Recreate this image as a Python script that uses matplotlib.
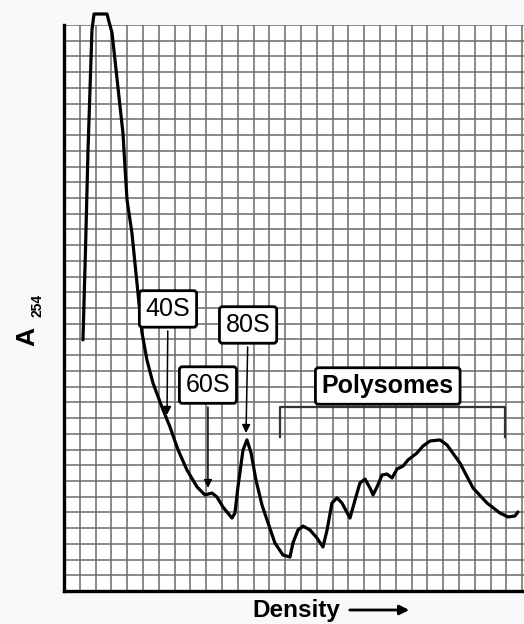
import numpy as np
import matplotlib
matplotlib.use('Agg')
import matplotlib.pyplot as plt

# trace (grid units)
dens = [1.20, 1.36, 1.52, 1.77, 1.90, 2.72, 2.85, 3.04, 3.73, 3.86, 3.99, 4.30, 4.68, 4.94,
        5.25, 5.63, 6.20, 6.71, 7.22, 7.78, 8.42, 8.92, 9.37, 9.68, 10.06, 10.63, 10.82,
        11.01, 11.33, 11.58, 11.84, 12.15, 12.53, 12.85, 13.35, 13.86, 14.30, 14.49, 14.81,
        15.13, 15.57, 16.01, 16.39, 16.65, 16.96, 17.28, 17.59, 18.10, 18.42, 18.73, 19.05,
        19.37, 19.56, 19.81, 20.13, 20.44, 20.76, 21.08, 21.46, 21.77, 22.34, 22.72, 23.16,
        23.80, 24.24, 25.06, 25.89, 26.77, 27.59, 28.10, 28.54, 28.73]
a254 = [15.97, 21.69, 28.05, 35.69, 36.70, 36.70, 36.20, 35.50, 29.13, 26.97, 24.87, 22.77,
        18.96, 16.41, 14.69, 13.23, 11.70, 10.43, 8.97, 7.70, 6.62, 6.11, 6.23, 5.98, 5.34,
        4.64, 4.96, 6.62, 8.97, 9.61, 8.78, 7.06, 5.47, 4.52, 3.05, 2.29, 2.16, 3.05, 3.88,
        4.13, 3.88, 3.37, 2.80, 3.88, 5.60, 5.92, 5.60, 4.64, 5.79, 6.87, 7.12, 6.55, 6.11,
        6.62, 7.38, 7.44, 7.19, 7.76, 7.95, 8.33, 8.78, 9.22, 9.54, 9.61, 9.29, 8.14, 6.55,
        5.60, 4.96, 4.71, 4.77, 5.03]

peak_names = ['40S', '60S', '80S']
peak_x = [6.52, 9.11, 11.52]
peak_y = [11.20, 6.55, 10.05]
label_pos = [(6.58, 17.94), (9.11, 13.10), (11.65, 16.92)]
poly_start, poly_end = 13.67, 27.91

font = 'Liberation Sans'

fig = plt.figure(figsize=(5.24, 6.24), dpi=100, facecolor='#f9f9fb')
ax = fig.add_axes([64/524, 33/624, 460/524, 566/624])
ax.set_facecolor('white')
ax.set_xlim(0, 460/15.8)
ax.set_ylim(0, 36)
ax.set_xticks(np.arange(0, 30))
ax.set_yticks(np.arange(0, 37))
ax.grid(True, color='#6a6a6a', lw=1.1)
ax.tick_params(length=0, labelbottom=False, labelleft=False)
for s in ['top', 'right']:
    ax.spines[s].set_visible(False)
for s in ['left', 'bottom']:
    ax.spines[s].set_linewidth(2.4)

ax.plot(dens, a254, color='black', lw=2.3, clip_on=False, solid_joinstyle='round',
        solid_capstyle='round', zorder=5)

box = dict(boxstyle='round,pad=0.25,rounding_size=0.12', fc='white', ec='black', lw=2)
for name, px, py, pos in zip(peak_names, peak_x, peak_y, label_pos):
    ax.annotate(name, xy=(px, py), xytext=pos, ha='center', va='center',
                fontsize=18, family=font, bbox=box, zorder=6,
                arrowprops=dict(arrowstyle='-|>', color='black', lw=1.1,
                                mutation_scale=12, shrinkB=0))

# polysome bracket
ax.plot([poly_start, poly_start, poly_end, poly_end], [9.8, 11.7, 11.7, 9.8],
        color='#333333', lw=1.6, zorder=5)
ax.text((poly_start + poly_end) / 2 - 0.3, 13.04, 'Polysomes', ha='center', va='center',
        fontsize=18, fontweight='bold', family=font, bbox=box, zorder=6)

# axis labels
fig.text(27/524, 1 - 336/624, 'A', rotation=90, ha='center', va='center',
         fontsize=19, fontweight='bold', family=font)
fig.text(37/524, 1 - 305/624, '254', rotation=90, ha='center', va='center',
         fontsize=10, fontweight='bold', family=font)
fig.text(296/524, 1 - 611/624, 'Density', ha='center', va='center',
         fontsize=17.5, fontweight='bold', family=font)
fig.add_artist(matplotlib.patches.FancyArrowPatch(
    (347/524, 1 - 610/624), (412/524, 1 - 610/624), transform=fig.transFigure,
    arrowstyle='-|>', mutation_scale=14, lw=2, color='black'))

fig.savefig('out.png', dpi=100, facecolor=fig.get_facecolor())
